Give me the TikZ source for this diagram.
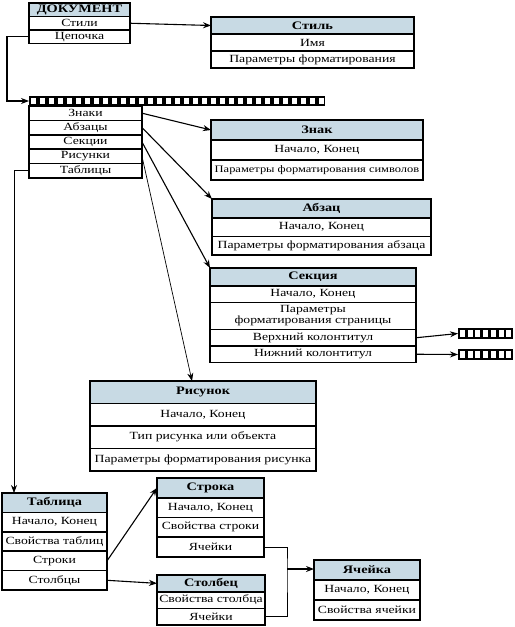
\documentclass[tikz,border=0pt]{standalone}
\usepackage{fontspec}
\setmainfont{Liberation Serif}[FakeStretch=1.25]
\usetikzlibrary{positioning,arrows.meta}
\definecolor{headblue}{RGB}{200,218,228}
\begin{document}
\begin{tikzpicture}[x=1bp,y=-1bp,>={Stealth[length=8bp,width=6bp]}]
  \tikzstyle{row}=[draw, line width=1.6bp, outer sep=0pt, inner sep=0pt, align=center, font=\fontsize{11}{11}\selectfont]
  \tikzstyle{head}=[row, fill=headblue, font=\fontsize{11.5}{12}\selectfont\bfseries]
  \tikzstyle{bar}=[fill=black, outer sep=0pt, inner sep=0pt, anchor=north west]
  \tikzstyle{link}=[->, line width=1.1bp]
  \useasboundingbox (0,0) rectangle (515,627);

  % документ
  \begin{scope}[nodes={minimum width=101bp, minimum height=13.5bp}]
  \node[head, anchor=north west] (doc) at (29,3) {ДОКУМЕНТ};
  \node[row, below=0pt of doc] (stili) {Стили};
  \node[row, below=0pt of stili] (cepochka) {Цепочка};
  \end{scope}

  % цепочка
  \node[bar, minimum width=296bp, minimum height=10bp] (chain) at (29,96) {};
  \foreach \i in {0,...,32} \fill[white] (31+9*\i,98) rectangle ++(5,6);
  \begin{scope}[nodes={minimum width=113bp, minimum height=14.4bp}]
  \node[row, anchor=north west] (znaki) at (29,106) {Знаки};
  \node[row, below=0pt of znaki] (abzacy) {Абзацы};
  \node[row, below=0pt of abzacy] (sekcii) {Секции};
  \node[row, below=0pt of sekcii] (risunki) {Рисунки};
  \node[row, below=0pt of risunki] (tablicy) {Таблицы};
  \end{scope}

  % стиль
  \begin{scope}[nodes={minimum width=203bp, minimum height=17bp}]
  \node[head, anchor=north west] (stil) at (211,17) {Стиль};
  \node[row, below=0pt of stil] (stilimya) {Имя};
  \node[row, below=0pt of stilimya] (stilpar) {Параметры форматирования};
  \end{scope}

  % знак
  \begin{scope}[nodes={minimum width=212bp, minimum height=20bp}]
  \node[head, anchor=north west] (znak) at (211,120) {Знак};
  \node[row, below=0pt of znak] (znakgr) {Начало, Конец};
  \node[row, below=0pt of znakgr, font=\fontsize{10}{11}\selectfont] (znakpar) {Параметры форматирования символов};
  \end{scope}

  % абзац
  \begin{scope}[nodes={minimum width=219bp, minimum height=18.7bp}]
  \node[head, anchor=north west] (abzac) at (212,199) {Абзац};
  \node[row, below=0pt of abzac] (abzacgr) {Начало, Конец};
  \node[row, below=0pt of abzacgr] (abzacpar) {Параметры форматирования абзаца};
  \end{scope}

  % секция
  \begin{scope}[nodes={minimum width=206bp, minimum height=16.5bp}]
  \node[head, anchor=north west, minimum height=18bp] (sekcia) at (210,268) {Секция};
  \node[row, below=0pt of sekcia] (sekciagr) {Начало, Конец};
  \node[row, below=0pt of sekciagr, minimum height=27bp] (sekciapar) {Параметры\\форматирования страницы};
  \node[row, below=0pt of sekciapar] (verh) {Верхний колонтитул};
  \node[row, below=0pt of verh] (nizh) {Нижний колонтитул};
  \end{scope}
  \node[bar, minimum width=55bp, minimum height=11bp] (kol1) at (458,328) {};
  \node[bar, minimum width=55bp, minimum height=11bp] (kol2) at (458,349) {};
  \foreach \i in {0,...,6} {
    \fill[white] (460+7.7*\i,330) rectangle ++(5,7);
    \fill[white] (460+7.7*\i,351) rectangle ++(5,7);
  }

  % рисунок
  \begin{scope}[nodes={minimum width=226bp, minimum height=22.5bp}]
  \node[head, anchor=north west] (risunok) at (90,381) {Рисунок};
  \node[row, below=0pt of risunok] (risunokgr) {Начало, Конец};
  \node[row, below=0pt of risunokgr] (risunoktip) {Тип рисунка или объекта};
  \node[row, below=0pt of risunoktip] (risunokpar) {Параметры форматирования рисунка};
  \end{scope}

  % таблица
  \begin{scope}[nodes={minimum width=105bp, minimum height=19.4bp}]
  \node[head, anchor=north west] (tablica) at (2,493) {Таблица};
  \node[row, below=0pt of tablica] (tablicagr) {Начало, Конец};
  \node[row, below=0pt of tablicagr] (tablicasv) {Свойства таблиц};
  \node[row, below=0pt of tablicasv] (stroki) {Строки};
  \node[row, below=0pt of stroki] (stolbcy) {Столбцы};
  \end{scope}

  % строка
  \begin{scope}[nodes={minimum width=107bp, minimum height=19.7bp}]
  \node[head, anchor=north west] (stroka) at (157,478) {Строка};
  \node[row, below=0pt of stroka] (strokagr) {Начало, Конец};
  \node[row, below=0pt of strokagr] (strokasv) {Свойства строки};
  \node[row, below=0pt of strokasv] (yach1) {Ячейки};
  \end{scope}

  % столбец
  \begin{scope}[nodes={minimum width=108bp, minimum height=16.7bp}]
  \node[head, anchor=north west] (stolbec) at (157,575) {Столбец};
  \node[row, below=0pt of stolbec] (stolbecsv) {Свойства столбца};
  \node[row, below=0pt of stolbecsv] (yach2) {Ячейки};
  \end{scope}

  % ячейка
  \begin{scope}[nodes={minimum width=106bp, minimum height=20bp}]
  \node[head, anchor=north west] (yacheika) at (314,560) {Ячейка};
  \node[row, below=0pt of yacheika] (yacheikagr) {Начало, Конец};
  \node[row, below=0pt of yacheikagr] (yacheikasv) {Свойства ячейки};
  \end{scope}

  % связи
  \draw[link] (stili.east) -- (stil.west);
  \draw[link] (cepochka.west) -- ++(-22,0) |- (chain.west);
  \draw[link] (znaki.east) -- (znak.west);
  \draw[link] (abzacy.east) -- (abzac.north west);
  \draw[link] (sekcii.east) -- (sekcia.north west);
  \draw[link, line width=0.7bp] (risunki.east) -- ([xshift=102bp]risunok.north west);
  \draw[link, line width=0.7bp] (tablicy.west) -| ([xshift=12bp]tablica.north west);
  \draw[link] (verh.east) -- (kol1.west);
  \draw[link] (nizh.east) -- (kol2.west);
  \draw[link] (stroki.east) -- (stroka.west);
  \draw[link] (stolbcy.east) -- (stolbec.west);
  \coordinate (knot) at (287,569);
  \draw[line width=0.7bp] (yach1.east) -| (knot) |- (yach2.east);
  \draw[link] (knot) -- (knot -| yacheika.west);
\end{tikzpicture}
\end{document}
